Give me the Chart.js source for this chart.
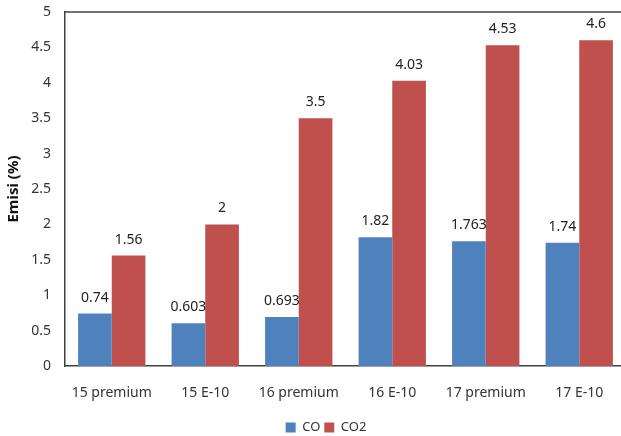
<!DOCTYPE html>
<html>
<head>
<meta charset="utf-8">
<script src="https://cdn.jsdelivr.net/npm/chart.js@4.4.1/dist/chart.umd.min.js"></script>
<style>
    html, body { margin: 0; padding: 0; background: #fff; overflow: hidden; }
    #wrap { width: 627px; height: 436px; position: relative; }
</style>
</head>
<body>
<div id="wrap"><canvas id="emisiChart"></canvas></div>
<script>
/* ── DADOS ── */
const categories = ['15 premium', '15 E-10', '16 premium', '16 E-10', '17 premium', '17 E-10'];
const coValues = [0.74, 0.603, 0.693, 1.82, 1.763, 1.74];
const co2Values = [1.56, 2, 3.5, 4.03, 4.53, 4.6];
const yTicks = [0, 0.5, 1, 1.5, 2, 2.5, 3, 3.5, 4, 4.5, 5];

const FONT = 'Noto Sans';
const AXIS_COLOR = '#404040';

/* ── rótulos de valor acima das barras ── */
const valueLabels = {
    id: 'valueLabels',
    afterDatasetsDraw(chart) {
        const c = chart.ctx;
        c.save();
        c.font = '14px "' + FONT + '"';
        c.fillStyle = '#222';
        c.textAlign = 'center';
        c.textBaseline = 'bottom';
        chart.data.datasets.forEach((ds, i) => {
            chart.getDatasetMeta(i).data.forEach((bar, j) => {
                c.fillText(String(ds.data[j]), bar.x, bar.y - 9);
            });
        });
        c.restore();
    }
};

/* ── linha superior da área do gráfico + legenda deslocada ── */
const frame = {
    id: 'frame',
    afterLayout(chart) {
        chart.legend.left += 13;
        chart.legend.right += 13;
    },
    afterDraw(chart) {
        const a = chart.chartArea;
        const c = chart.ctx;
        c.save();
        c.strokeStyle = AXIS_COLOR;
        c.lineWidth = 1.5;
        c.beginPath();
        c.moveTo(a.left, a.top);
        c.lineTo(a.right, a.top);
        c.stroke();
        c.restore();
    }
};

new Chart(document.getElementById('emisiChart'), {
    type: 'bar',
    data: {
        labels: categories,
        datasets: [{
            label: 'CO',
            data: coValues,
            backgroundColor: '#4F81BD'
        }, {
            label: 'CO2',
            data: co2Values,
            backgroundColor: '#C0504D'
        }]
    },
    options: {
        responsive: true,
        maintainAspectRatio: false,
        animation: false,
        layout: {
            padding: { left: 0, right: 1, top: 12, bottom: -8 }
        },
        datasets: {
            bar: {
                categoryPercentage: 0.72,
                barPercentage: 1.0
            }
        },
        plugins: {
            tooltip: { enabled: false },
            legend: {
                position: 'bottom',
                labels: {
                    boxWidth: 10,
                    boxHeight: 10,
                    padding: 4,
                    color: '#333',
                    font: { family: FONT, size: 13 }
                }
            }
        },
        scales: {
            x: {
                grid: { display: false, drawTicks: false },
                border: { display: true, color: AXIS_COLOR, width: 1.5 },
                ticks: {
                    color: '#333',
                    padding: 19,
                    maxRotation: 0,
                    font: { family: FONT, size: 14 }
                },
                afterFit(scale) {
                    scale.height = 51;
                }
            },
            y: {
                min: 0,
                max: 5,
                afterBuildTicks(scale) {
                    scale.ticks = yTicks.map(v => ({ value: v }));
                },
                grid: { display: false, drawTicks: false },
                border: { display: true, color: AXIS_COLOR, width: 1.5 },
                ticks: {
                    color: '#333',
                    padding: 14,
                    font: { family: FONT, size: 14 },
                    callback: v => String(v)
                },
                title: {
                    display: true,
                    text: 'Emisi (%)',
                    color: '#111',
                    padding: { top: 5, bottom: 0 },
                    font: { family: FONT, size: 15, weight: 'bold' }
                },
                afterFit(scale) {
                    scale.width = 65;
                    scale.paddingTop = 0;
                    scale.paddingBottom = 0;
                }
            }
        }
    },
    plugins: [valueLabels, frame]
});
</script>
</body>
</html>
